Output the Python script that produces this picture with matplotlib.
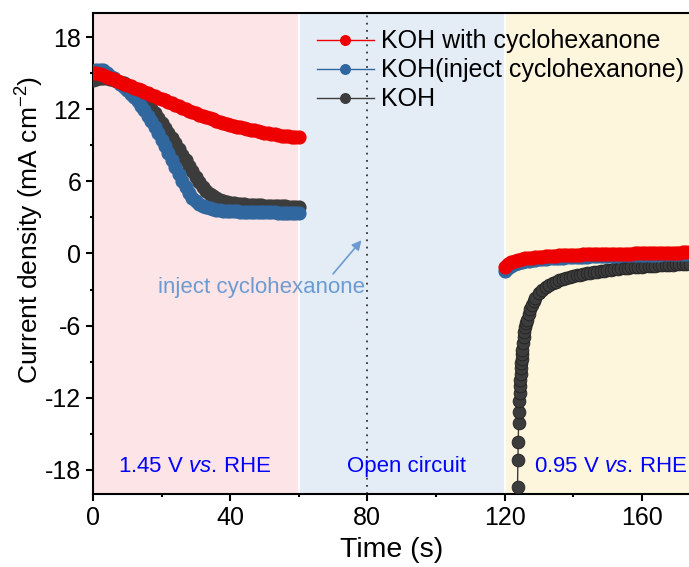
import numpy as np
import matplotlib
matplotlib.use("Agg")
import matplotlib.pyplot as plt
from matplotlib.ticker import MultipleLocator

plt.rcParams['font.family'] = ['Liberation Sans', 'DejaVu Sans']
plt.rcParams['mathtext.fontset'] = 'custom'
plt.rcParams['mathtext.rm'] = 'Liberation Sans'
plt.rcParams['mathtext.it'] = 'Liberation Sans:italic'
plt.rcParams['axes.unicode_minus'] = False

# --- data ---
# anodic step (1.45 V), 0-60 s, 1 s spacing
t_anodic = np.arange(0, 61, 1)
j_with_anodic = [15.05, 14.98, 14.90, 14.82, 14.72, 14.62, 14.50, 14.38, 14.26, 14.13,
                 14.00, 13.89, 13.78, 13.67, 13.56, 13.45, 13.33, 13.21, 13.09, 12.97,
                 12.85, 12.73, 12.61, 12.49, 12.37, 12.25, 12.13, 12.01, 11.89, 11.77,
                 11.65, 11.55, 11.45, 11.35, 11.25, 11.15, 11.06, 10.97, 10.88, 10.79,
                 10.70, 10.63, 10.56, 10.49, 10.42, 10.35, 10.29, 10.23, 10.17, 10.11,
                 10.05, 10.00, 9.95, 9.90, 9.85, 9.81, 9.77, 9.74, 9.71, 9.68, 9.66]
j_inject_anodic = [15.10, 15.25, 15.30, 15.25, 15.05, 14.80, 14.58, 14.35, 14.12, 13.88,
                   13.60, 13.30, 13.00, 12.65, 12.30, 11.90, 11.45, 11.00, 10.50, 9.98,
                   9.45, 8.90, 8.35, 7.80, 7.20, 6.62, 6.05, 5.52, 5.05, 4.65,
                   4.35, 4.12, 3.95, 3.83, 3.74, 3.67, 3.62, 3.58, 3.55, 3.53,
                   3.51, 3.50, 3.49, 3.48, 3.47, 3.46, 3.45, 3.44, 3.43, 3.43,
                   3.42, 3.42, 3.41, 3.41, 3.40, 3.40, 3.39, 3.39, 3.38, 3.38, 3.38]
j_koh_anodic = [14.40, 14.55, 14.62, 14.63, 14.60, 14.54, 14.47, 14.38, 14.28, 14.17,
                14.02, 13.82, 13.58, 13.32, 13.03, 12.72, 12.38, 12.02, 11.65, 11.27,
                10.88, 10.47, 10.05, 9.60, 9.15, 8.70, 8.23, 7.75, 7.28, 6.82,
                6.38, 5.95, 5.55, 5.22, 4.95, 4.74, 4.58, 4.46, 4.37, 4.29,
                4.23, 4.18, 4.14, 4.11, 4.08, 4.06, 4.04, 4.02, 4.00, 3.99,
                3.97, 3.96, 3.95, 3.94, 3.93, 3.92, 3.91, 3.90, 3.89, 3.88, 3.87]

# cathodic step (0.95 V), 120-174 s
t_cathodic = np.arange(120, 175, 1)
j_with_cathodic = [-1.15, -0.85, -0.70, -0.60, -0.52, -0.46, -0.42, -0.38, -0.35, -0.32,
                   -0.29, -0.27, -0.24, -0.22, -0.20, -0.18, -0.16, -0.15, -0.14, -0.12,
                   -0.11, -0.10, -0.09, -0.08, -0.08, -0.07, -0.06, -0.06, -0.05, -0.05,
                   -0.04, -0.04, -0.03, -0.03, -0.02, -0.02, -0.01, -0.01, 0.00, 0.00,
                   0.01, 0.02, 0.02, 0.03, 0.03, 0.04, 0.04, 0.05, 0.05, 0.06,
                   0.06, 0.07, 0.08, 0.09, 0.10]
j_inject_cathodic = [-1.50, -1.20, -1.02, -0.90, -0.80, -0.72, -0.66, -0.61, -0.57, -0.53,
                     -0.50, -0.47, -0.44, -0.42, -0.40, -0.38, -0.36, -0.34, -0.33, -0.31,
                     -0.30, -0.29, -0.28, -0.27, -0.26, -0.25, -0.24, -0.23, -0.22, -0.21,
                     -0.20, -0.19, -0.18, -0.18, -0.17, -0.16, -0.15, -0.15, -0.14, -0.13,
                     -0.12, -0.11, -0.11, -0.10, -0.10, -0.09, -0.08, -0.08, -0.07, -0.06,
                     -0.05, -0.05, -0.04, -0.03, -0.02]
t_koh_cathodic = [123.8, 123.9, 124.0, 124.1, 124.2, 124.3, 124.4, 124.5, 124.6, 124.7,
                  124.8, 124.9, 125.0, 125.1, 125.2, 125.4, 125.6, 125.8, 126.0, 126.3,
                  126.6, 127.0, 127.5, 128.0, 128.5, 129, 130, 131, 132, 133,
                  134, 135, 136, 137, 138, 139, 140, 141, 142, 143,
                  144, 145, 146, 147, 148, 149, 150, 151, 152, 153,
                  154, 155, 156, 157, 158, 159, 160, 161, 162, 163,
                  164, 165, 166, 167, 168, 169, 170, 171, 172, 173, 174]
j_koh_cathodic = [-19.4, -17.2, -15.7, -14.1, -13.2, -12.3, -11.6, -11.0, -10.5, -10.0,
                  -9.55, -9.15, -8.75, -8.40, -8.05, -7.45, -6.95, -6.50, -6.10, -5.80,
                  -5.50, -5.05, -4.62, -4.25, -3.95, -3.70, -3.30, -3.02, -2.80, -2.62,
                  -2.47, -2.34, -2.23, -2.13, -2.04, -1.96, -1.89, -1.83, -1.77, -1.71,
                  -1.66, -1.61, -1.56, -1.51, -1.47, -1.43, -1.39, -1.35, -1.32, -1.28,
                  -1.25, -1.22, -1.19, -1.16, -1.14, -1.11, -1.09, -1.07, -1.05, -1.03,
                  -1.01, -0.99, -0.97, -0.96, -0.94, -0.92, -0.91, -0.89, -0.88, -0.87, -0.86]

labels = ["KOH with cyclohexanone", "KOH(inject cyclohexanone)", "KOH"]
colors = ["#EE0000", "#30679E", "#3C3C3C"]

fig = plt.figure(figsize=(6.89, 5.67), dpi=100)
ax = fig.add_axes([0.135, 0.129, 0.866, 0.848])

# background regions
ax.axvspan(0, 60, color="#FDE4E6", lw=0, zorder=0)
ax.axvspan(60, 120, color="#E4EDF6", lw=0, zorder=0)
ax.axvspan(120, 180, color="#FDF5DC", lw=0, zorder=0)
for xb in (60, 120):
    ax.axvline(xb, color="white", lw=1.5, zorder=0.5)
ax.axvline(80, color="#333333", lw=1.3, linestyle=(0, (1, 3)), zorder=1)

ms = 9.2
band = 7
series = [
    (j_koh_anodic, 2, 3),
    (j_inject_anodic, 1, 4),
    (j_with_anodic, 0, 5),
]
for ja, i, z in series:
    c = colors[i]
    # thick band under the dense markers, then the markers
    ax.plot(t_anodic, ja, color=c, lw=band, solid_capstyle="round", zorder=z)
    ax.plot(t_anodic, ja, color=c, lw=1, marker="o", ms=ms, mfc=c, mec=c,
            zorder=z, label=labels[i])

for jc, i, z in [(j_inject_cathodic, 1, 4), (j_with_cathodic, 0, 5)]:
    c = colors[i]
    ax.plot(t_cathodic, jc, color=c, lw=band, solid_capstyle="round", zorder=z)
    ax.plot(t_cathodic, jc, color=c, lw=1, marker="o", ms=ms, mfc=c, mec=c, zorder=z)

c = colors[2]
ax.plot(t_koh_cathodic[18:], j_koh_cathodic[18:], color=c, lw=band,
        solid_capstyle="round", zorder=3)
ax.plot(t_koh_cathodic, j_koh_cathodic, color=c, lw=1, marker="o", ms=ms,
        mfc=c, mec="#222222", mew=0.6, zorder=3)

# legend in the reference order
h, l = ax.get_legend_handles_labels()
order = [2, 1, 0]
ax.legend([h[k] for k in order], [l[k] for k in order], loc="upper left",
          bbox_to_anchor=(0.376, 0.966), frameon=False, fontsize=18,
          handlelength=2.25, handletextpad=0.3, labelspacing=0.2,
          borderpad=0, borderaxespad=0, markerscale=0.75, numpoints=1)

# annotations
txt_blue = "#0000FF"
ax.text(29.5, -17.7, r"1.45 V $\mathit{vs}$. RHE", color=txt_blue, fontsize=16,
        ha="center", va="center")
ax.text(91.5, -17.7, "Open circuit", color=txt_blue, fontsize=16,
        ha="center", va="center")
ax.text(151, -17.7, r"0.95 V $\mathit{vs}$. RHE", color=txt_blue, fontsize=16,
        ha="center", va="center")
ax.annotate("", xy=(78.3, 1.1), xytext=(70.0, -1.7),
            arrowprops=dict(arrowstyle="-|>", color="#6B9BD2", lw=1.2,
                            mutation_scale=14, shrinkA=0, shrinkB=0))
ax.text(49.2, -2.8, "inject cyclohexanone", color="#6B9BD2", fontsize=16,
        ha="center", va="center")

ax.set_xlim(0, 174)
ax.set_ylim(-20, 20)
ax.xaxis.set_major_locator(MultipleLocator(40))
ax.xaxis.set_minor_locator(MultipleLocator(20))
ax.yaxis.set_major_locator(MultipleLocator(6))
ax.yaxis.set_minor_locator(MultipleLocator(3))
ax.set_yticks([-18, -12, -6, 0, 6, 12, 18])
ax.tick_params(which="major", direction="out", length=5, width=1.5, labelsize=18)
ax.tick_params(which="minor", direction="out", length=2.5, width=1.5)
for s in ("left", "bottom", "top"):
    ax.spines[s].set_linewidth(1.5)
ax.spines["right"].set_visible(False)

ax.set_xlabel("Time (s)", fontsize=20.5, labelpad=5)
ax.set_ylabel(r"Current density (mA cm$^{-2}$)", fontsize=19)
ax.yaxis.set_label_coords(-0.078, 0.55)

fig.savefig("out.png", dpi=100)
